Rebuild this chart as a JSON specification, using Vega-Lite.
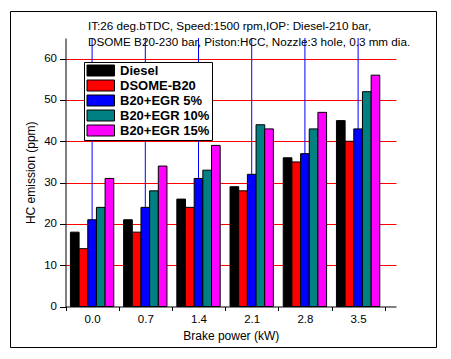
{
  "$schema": "https://vega.github.io/schema/vega-lite/v6.json",
  "width": 426,
  "height": 336,
  "autosize": "none",
  "padding": {"left": 10, "top": 11, "right": 15, "bottom": 12},
  "background": "white",
  "title": {
    "text": ["IT:26 deg.bTDC, Speed:1500 rpm,IOP: Diesel-210 bar,", "DSOME B20-230 bar, Piston:HCC, Nozzle:3 hole, 0.3 mm dia."],
    "anchor": "start",
    "frame": "group",
    "baseline": "top",
    "offset": -38,
    "dx": 78,
    "lineHeight": 16,
    "font": "Liberation Sans",
    "fontSize": 11.7,
    "fontWeight": "normal",
    "color": "black"
  },
  "config": {
    "view": {"stroke": "black", "strokeWidth": 1},
    "axis": {
      "labelFont": "Liberation Sans",
      "titleFont": "Liberation Sans",
      "labelFontSize": 11.5,
      "titleFontSize": 12,
      "titleFontWeight": "normal",
      "labelColor": "black",
      "titleColor": "black",
      "domainColor": "black",
      "tickColor": "black",
      "domainWidth": 1,
      "tickWidth": 1
    }
  },
  "encoding": {
    "x": {
      "field": "power",
      "type": "ordinal",
      "scale": {"range": [55.5, 386], "paddingInner": 0, "paddingOuter": 0.106, "align": 0, "round": false},
      "axis": {
        "title": "Brake power (kW)",
        "tickBand": "extent",
        "grid": false,
        "tickSize": 4,
        "labelAngle": 0,
        "offset": -40.5,
        "labelPadding": 3,
        "titlePadding": 5
      }
    }
  },
  "layer": [
    {
      "data": {"values": [{"power": "0.0"}, {"power": "0.7"}, {"power": "1.4"}, {"power": "2.1"}, {"power": "2.8"}, {"power": "3.5"}]},
      "mark": {"type": "rule", "color": "blue", "strokeWidth": 1},
      "encoding": {
        "y": {"datum": 0, "type": "quantitative"},
        "y2": {"datum": 65}
      }
    },
    {
      "data": {
        "values": [
          {"power": "0.0", "fuel": "Diesel", "hc": 18},
          {"power": "0.0", "fuel": "DSOME-B20", "hc": 14},
          {"power": "0.0", "fuel": "B20+EGR 5%", "hc": 21},
          {"power": "0.0", "fuel": "B20+EGR 10%", "hc": 24},
          {"power": "0.0", "fuel": "B20+EGR 15%", "hc": 31},
          {"power": "0.7", "fuel": "Diesel", "hc": 21},
          {"power": "0.7", "fuel": "DSOME-B20", "hc": 18},
          {"power": "0.7", "fuel": "B20+EGR 5%", "hc": 24},
          {"power": "0.7", "fuel": "B20+EGR 10%", "hc": 28},
          {"power": "0.7", "fuel": "B20+EGR 15%", "hc": 34},
          {"power": "1.4", "fuel": "Diesel", "hc": 26},
          {"power": "1.4", "fuel": "DSOME-B20", "hc": 24},
          {"power": "1.4", "fuel": "B20+EGR 5%", "hc": 31},
          {"power": "1.4", "fuel": "B20+EGR 10%", "hc": 33},
          {"power": "1.4", "fuel": "B20+EGR 15%", "hc": 39},
          {"power": "2.1", "fuel": "Diesel", "hc": 29},
          {"power": "2.1", "fuel": "DSOME-B20", "hc": 28},
          {"power": "2.1", "fuel": "B20+EGR 5%", "hc": 32},
          {"power": "2.1", "fuel": "B20+EGR 10%", "hc": 44},
          {"power": "2.1", "fuel": "B20+EGR 15%", "hc": 43},
          {"power": "2.8", "fuel": "Diesel", "hc": 36},
          {"power": "2.8", "fuel": "DSOME-B20", "hc": 35},
          {"power": "2.8", "fuel": "B20+EGR 5%", "hc": 37},
          {"power": "2.8", "fuel": "B20+EGR 10%", "hc": 43},
          {"power": "2.8", "fuel": "B20+EGR 15%", "hc": 47},
          {"power": "3.5", "fuel": "Diesel", "hc": 45},
          {"power": "3.5", "fuel": "DSOME-B20", "hc": 40},
          {"power": "3.5", "fuel": "B20+EGR 5%", "hc": 43},
          {"power": "3.5", "fuel": "B20+EGR 10%", "hc": 52},
          {"power": "3.5", "fuel": "B20+EGR 15%", "hc": 56}
        ]
      },
      "mark": {"type": "bar", "stroke": "black", "strokeWidth": 1},
      "encoding": {
        "xOffset": {
          "field": "fuel",
          "type": "nominal",
          "sort": ["Diesel", "DSOME-B20", "B20+EGR 5%", "B20+EGR 10%", "B20+EGR 15%"],
          "scale": {"paddingInner": 0, "paddingOuter": 0.568}
        },
        "y": {
          "field": "hc",
          "type": "quantitative",
          "scale": {"domain": [0, 65], "range": [295.5, 27], "nice": false, "zero": true},
          "axis": {
            "title": "HC emission (ppm)",
            "values": [0, 5, 10, 15, 20, 25, 30, 35, 40, 45, 50, 55, 60, 65],
            "labelExpr": "datum.value % 10 === 0 ? datum.label : ''",
            "tickSize": {"condition": {"test": "datum.value % 10 === 0", "value": 6}, "value": 3},
            "grid": true,
            "gridColor": "red",
            "gridWidth": 1,
            "gridOpacity": {"condition": {"test": "datum.value % 10 === 0 && datum.value > 0", "value": 1}, "value": 0},
            "offset": -55.5,
            "labelPadding": 3,
            "titlePadding": 6
          }
        },
        "color": {
          "field": "fuel",
          "type": "nominal",
          "scale": {
            "domain": ["Diesel", "DSOME-B20", "B20+EGR 5%", "B20+EGR 10%", "B20+EGR 15%"],
            "range": ["#000000", "#ff0000", "#0000ff", "#008080", "#ff00ff"]
          },
          "legend": {
            "orient": "none",
            "legendX": 74,
            "legendY": 51,
            "title": null,
            "strokeColor": "black",
            "fillColor": "white",
            "padding": 2,
            "symbolType": "M-1,-1H4V1H-1Z",
            "symbolSize": 121,
            "symbolStrokeColor": "black",
            "symbolStrokeWidth": 1,
            "symbolOpacity": 1,
            "labelFont": "Liberation Sans",
            "labelFontSize": 13,
            "labelFontWeight": "bold",
            "labelColor": "black",
            "labelOffset": 21,
            "labelLimit": 200,
            "rowPadding": 0
          }
        }
      }
    }
  ]
}
